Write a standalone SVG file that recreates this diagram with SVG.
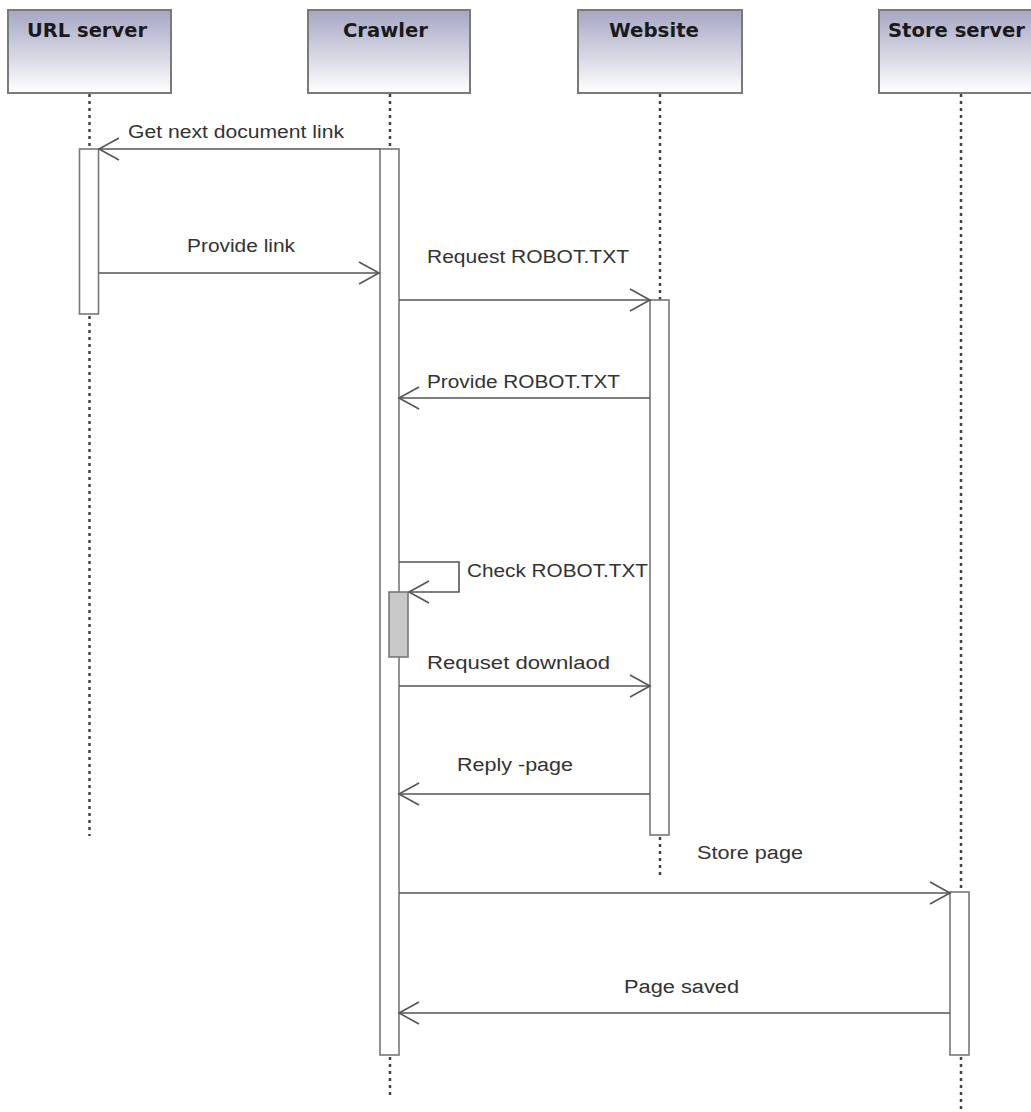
<svg xmlns="http://www.w3.org/2000/svg" width="1031" height="1112" viewBox="0 0 1031 1112">
<style>
.hdr{fill:url(#hg);stroke:#7a7a7a;stroke-width:2}
.ht{font-family:"DejaVu Sans",sans-serif;font-weight:bold;font-size:20px;fill:#1a1a1a}
.life{stroke:#444;stroke-width:2.5;stroke-dasharray:3 4;fill:none}
.act{fill:#fff;stroke:#777;stroke-width:1.6}
.actg{fill:#c8c8c8;stroke:#777;stroke-width:1.6}
.msg{stroke:#555;stroke-width:1.6;fill:none;marker-end:url(#arr)}
.lbl{font-family:"Liberation Sans",Arial,sans-serif;font-size:18px;fill:#333}
</style>
<defs>
<linearGradient id="hg" x1="0" y1="0" x2="0" y2="1">
<stop offset="0" stop-color="#a6a6c4"/>
<stop offset="1" stop-color="#ffffff"/>
</linearGradient>
<marker id="arr" markerUnits="userSpaceOnUse" markerWidth="24" markerHeight="26" refX="0" refY="0" viewBox="-22 -12 24 24" orient="auto" overflow="visible">
<path d="M-20,-11 L0,0 L-20,11" fill="none" stroke="#555" stroke-width="1.6"/>
</marker>
</defs>
<rect width="1031" height="1112" fill="#fff"/>

<g id="url-server">
<rect class="hdr" x="8" y="10" width="163" height="83"/>
<text class="ht" x="27" y="37" textLength="120" lengthAdjust="spacingAndGlyphs">URL server</text>
<line class="life" x1="89.5" y1="94" x2="89.5" y2="149"/>
<line class="life" x1="89.5" y1="316" x2="89.5" y2="836"/>
<rect class="act" x="79.5" y="149" width="19" height="165"/>
</g>

<g id="crawler">
<rect class="hdr" x="308" y="10" width="162" height="83"/>
<text class="ht" x="343" y="37" textLength="85" lengthAdjust="spacingAndGlyphs">Crawler</text>
<line class="life" x1="390" y1="94" x2="390" y2="149"/>
<line class="life" x1="390" y1="1057" x2="390" y2="1098"/>
<rect class="act" x="380" y="149" width="19" height="906"/>
<rect class="actg" x="389" y="592" width="19" height="65"/>
</g>

<g id="website">
<rect class="hdr" x="578" y="10" width="164" height="83"/>
<text class="ht" x="609" y="37" textLength="90" lengthAdjust="spacingAndGlyphs">Website</text>
<line class="life" x1="660" y1="94" x2="660" y2="300"/>
<line class="life" x1="660" y1="837" x2="660" y2="877"/>
<rect class="act" x="650" y="300" width="19" height="535"/>
</g>

<g id="store-server">
<rect class="hdr" x="879" y="10" width="170" height="83"/>
<text class="ht" x="888" y="37" textLength="137" lengthAdjust="spacingAndGlyphs">Store server</text>
<line class="life" x1="961" y1="94" x2="961" y2="892"/>
<line class="life" x1="961" y1="1057" x2="961" y2="1112"/>
<rect class="act" x="950" y="892" width="19" height="163"/>
</g>

<g id="connectors">
<line class="msg" x1="380" y1="149" x2="99" y2="149"/>
<line class="msg" x1="99" y1="273" x2="379" y2="273"/>
<line class="msg" x1="399" y1="300" x2="650" y2="300"/>
<line class="msg" x1="650" y1="398" x2="399" y2="398"/>
<path class="msg" d="M399,562 H459 V592 H409"/>
<line class="msg" x1="399" y1="686" x2="650" y2="686"/>
<line class="msg" x1="650" y1="794" x2="399" y2="794"/>
<line class="msg" x1="399" y1="893" x2="950" y2="893"/>
<line class="msg" x1="950" y1="1013" x2="399" y2="1013"/>
</g>

<g id="labels">
<text class="lbl" x="128" y="138" textLength="216" lengthAdjust="spacingAndGlyphs">Get next document link</text>
<text class="lbl" x="187" y="252" textLength="108" lengthAdjust="spacingAndGlyphs">Provide link</text>
<text class="lbl" x="427" y="263" textLength="202" lengthAdjust="spacingAndGlyphs">Request ROBOT.TXT</text>
<text class="lbl" x="427" y="388" textLength="193" lengthAdjust="spacingAndGlyphs">Provide ROBOT.TXT</text>
<text class="lbl" x="467" y="577" textLength="181" lengthAdjust="spacingAndGlyphs">Check ROBOT.TXT</text>
<text class="lbl" x="427" y="669" textLength="183" lengthAdjust="spacingAndGlyphs">Requset downlaod</text>
<text class="lbl" x="457" y="771" textLength="116" lengthAdjust="spacingAndGlyphs">Reply -page</text>
<text class="lbl" x="697" y="859" textLength="106" lengthAdjust="spacingAndGlyphs">Store page</text>
<text class="lbl" x="624" y="993" textLength="115" lengthAdjust="spacingAndGlyphs">Page saved</text>
</g>
</svg>
